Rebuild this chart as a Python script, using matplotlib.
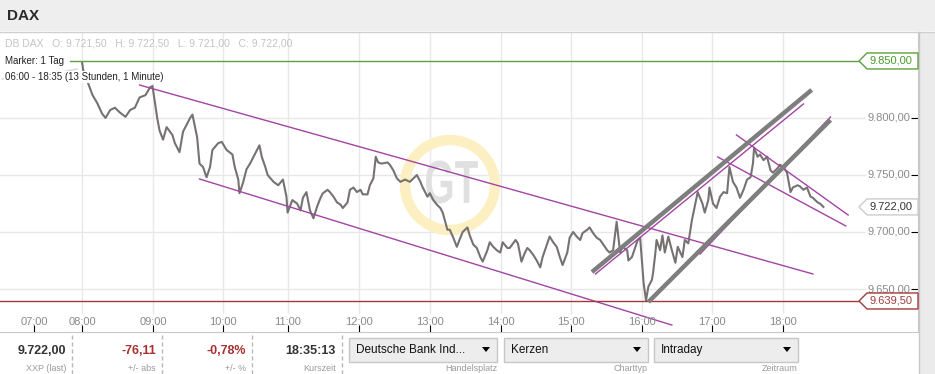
import matplotlib.pyplot as plt
from matplotlib.patches import Rectangle, Polygon, Ellipse, PathPatch
from matplotlib.textpath import TextPath
from matplotlib.font_manager import FontProperties
from matplotlib.transforms import Affine2D, blended_transform_factory

plt.rcParams['font.family'] = ['Liberation Sans', 'DejaVu Sans']

# minutes after 08:00 on the chart's (index based) time scale
pre_mins = [-68, -61, -53, -36, -19, -4]
pre_price = [9834, 9836, 9833, 9838, 9840, 9843]

mins = [0, 2, 5, 9, 13, 17, 20, 24, 28, 32, 37, 41, 45, 49, 54, 58, 60, 62, 64, 66, 69, 72, 77, 79, 83, 86, 92, 94,
        98, 100, 103, 106, 109, 111, 116, 119, 123, 128, 130, 133, 134, 137, 140, 143, 147, 151, 153, 156, 158, 163,
        167, 171, 174, 175, 179, 183, 186,
        188, 191, 194, 197, 200, 203, 205, 209, 211, 214, 217, 220, 222, 226, 228, 231, 234, 237, 239, 243, 245, 248,
        250, 252, 255, 260, 262, 265, 268, 271, 275, 279, 283,
        285, 288, 290, 294, 296, 299, 302, 305, 307, 311, 313, 316, 319, 322, 324, 328, 330, 333, 336, 339, 341, 345,
        347, 350, 353, 356, 358, 362, 364, 369, 371, 374, 377,
        379, 381, 384, 387, 390, 392, 396, 398, 401, 404, 407, 409, 413, 415, 418, 421, 424, 426, 430, 432, 435, 438,
        441, 443, 447, 449, 452, 455, 458, 460, 464, 465, 468, 471, 473,
        475, 477, 478, 480, 482, 485, 486, 488, 489, 492, 494, 496, 499, 502, 505, 507, 511, 513, 516, 519, 522, 524,
        528, 530, 533, 534, 537, 540, 543, 546, 549, 551, 554, 557, 560, 563, 566, 569, 571, 572, 575, 577, 580, 583,
        586, 588, 592, 594, 597, 600, 603, 605, 609, 611, 614, 617, 620, 622, 626, 628, 631]
price = [9849, 9836, 9831, 9820, 9813, 9804, 9800, 9807, 9809, 9805, 9801, 9807, 9809, 9818, 9820, 9827, 9828, 9814,
         9800, 9789, 9781, 9792, 9785, 9778, 9770, 9788, 9800, 9803,
         9783, 9760, 9757, 9748, 9757, 9772, 9778, 9779, 9772, 9768, 9757, 9746, 9734, 9743, 9755, 9760, 9768, 9776,
         9766, 9757, 9750, 9744, 9741, 9746, 9731, 9717, 9728, 9725, 9719,
         9730, 9735, 9719, 9712, 9722, 9730, 9734, 9737, 9735, 9731, 9726, 9724, 9721, 9726, 9737, 9739, 9735, 9737,
         9733, 9733, 9741, 9747, 9766, 9761, 9760, 9761, 9759, 9754, 9747, 9744, 9746, 9744, 9748,
         9750, 9744, 9739, 9731, 9734, 9728, 9724, 9721, 9717, 9702, 9702, 9695, 9687, 9695, 9700, 9704, 9697, 9689,
         9686, 9678, 9674, 9684, 9691, 9687, 9684, 9682, 9691, 9686, 9686, 9693, 9690, 9674, 9682,
         9686, 9684, 9680, 9675, 9669, 9678, 9690, 9696, 9691, 9687, 9677, 9671, 9682, 9695, 9700, 9696, 9693, 9699,
         9702, 9704, 9699, 9695, 9693, 9690, 9684, 9682, 9684, 9709, 9682, 9687, 9684, 9675, 9678, 9687, 9693,
         9695, 9669, 9655, 9640, 9652, 9658, 9664, 9682, 9693, 9684, 9697, 9682, 9696, 9684, 9673, 9687, 9678, 9693,
         9690, 9710, 9725, 9735, 9725, 9717, 9728, 9739, 9725, 9721, 9731, 9735, 9734, 9757, 9744, 9739, 9730, 9737,
         9746, 9748, 9760, 9774, 9766, 9768, 9763, 9766, 9754, 9752, 9756, 9759, 9757, 9752, 9735, 9739, 9741, 9740,
         9737, 9739, 9731, 9730, 9726, 9725, 9722]

# drawn trend lines: (start time, start price, end time, end price)
purple_lines = [("08:49", 9828.9, "18:22", 9663.2),
                ("09:40", 9746.5, "16:22", 9618.4),
                ("15:17", 9663.2, "18:14", 9812.3),
                ("16:46", 9680.7, "18:37", 9800.9),
                ("17:17", 9785.1, "18:52", 9714.9),
                ("17:01", 9765.8, "18:50", 9705.3)]
gray_lines = [("15:14", 9664.9, "18:21", 9824.6),
              ("16:02", 9638.6, "18:37", 9798.2)]

tick_labels = ["07:00", "08:00", "09:00", "10:00", "11:00", "12:00", "13:00", "14:00", "15:00", "16:00", "17:00", "18:00"]
tick_pos = [7.32, 8.0, 9.01, 10.0, 10.92, 11.93, 12.94, 13.94, 14.93, 15.94, 16.94, 17.94]
y_ticks = [9650, 9700, 9750, 9800]
y_tick_labels = ["9.650,00", "9.700,00", "9.750,00", "9.800,00"]

day_high = 9850.0
day_low = 9639.5
last = 9722.0


def hours(s):
    h, m = s.split(":")
    return int(h) + int(m) / 60.0


W, H = 935, 374
fig = plt.figure(figsize=(W / 100, H / 100), dpi=100)
fig.patch.set_facecolor("white")


def fx(px):
    return px / W


def fy(py):
    return 1 - py / H


ax = fig.add_axes([0, fy(332), fx(918), (332 - 32) / H])
ax.set_xlim(6.837, 19.858)
ax.set_ylim(9612.3, 9875.4)
for s in ["top", "left"]:
    ax.spines[s].set_visible(False)
ax.spines["bottom"].set_color("#c8c8c8")
ax.spines["right"].set_color("#c8c8c8")
ax.set_xticks(tick_pos)
ax.tick_params(axis="x", direction="in", length=5, color="black", labelbottom=False)
ax.yaxis.tick_right()
ax.set_yticks(y_ticks)
ax.tick_params(axis="y", direction="in", length=5, color="black", labelright=False)

# grid
for p in y_ticks:
    ax.axhline(p, xmin=0, xmax=865 / 918, color="#e8e8e8", lw=1, zorder=0.5)
for t in tick_pos[1:]:
    ax.axvline(t, ymin=19 / 300, ymax=1, color="#e8e8e8", lw=1, zorder=0.5)

# watermark
ax.add_patch(Ellipse((fx(450), fy(185)), 90 / W, 90 / H, transform=fig.transFigure,
                     fill=False, ec="#fcf0c2", lw=7.5, zorder=0.6))
tp = TextPath((0, 0), "GT", size=1, prop=FontProperties(family="Liberation Sans", weight="bold"))
bb = tp.get_extents()
tr = (Affine2D().translate(-bb.x0 - bb.width / 2, -bb.y0 - bb.height / 2)
      .scale(52 / bb.width / W, 43 / bb.height / H).translate(fx(452), fy(182)) + fig.transFigure)
ax.add_patch(PathPatch(tp, transform=tr, fc="#e0e0e0", ec="none", zorder=0.7))

# price
ax.plot([8 + m / 60 for m in pre_mins], pre_price, color="#d6d6d6", lw=1, zorder=1)
ax.plot([8 + m / 60 for m in mins], price, color="#767272", lw=1.5, zorder=2)

# trend lines
for t0, p0, t1, p1 in purple_lines:
    ax.plot([hours(t0), hours(t1)], [p0, p1], color="#a344a3", lw=1, zorder=3)
for t0, p0, t1, p1 in gray_lines:
    ax.plot([hours(t0), hours(t1)], [p0, p1], color="#7e7e7e", lw=3.2, zorder=3.5,
            solid_capstyle="butt")

# marker lines
ax.axhline(day_high, xmin=70 / 918, xmax=859 / 918, color="#5aa23c", lw=1, zorder=3)
ax.axhline(day_low, xmin=0, xmax=859 / 918, color="#a33a3a", lw=1, zorder=3)

# axis labels
bt = blended_transform_factory(ax.transData, ax.transAxes)
for t, lab in zip(tick_pos, tick_labels):
    ax.text(t, 10 / 300, lab, transform=bt, ha="center", va="center", fontsize=8, color="#8a8a8a")
bt2 = blended_transform_factory(ax.transAxes, ax.transData)
for p, lab in zip(y_ticks, y_tick_labels):
    ax.text(910 / 918, p, lab, transform=bt2, ha="right", va="center", fontsize=8, color="#8a8a8a",
            zorder=4)

# texts in chart
ax.text(fx(5), fy(44), "DB DAX   O: 9.721,50   H: 9.722,50   L: 9.721,00   C: 9.722,00",
        transform=fig.transFigure, fontsize=7.5, color="#c4c4c4", va="center")
ax.text(fx(5), fy(61), "Marker: 1 Tag", transform=fig.transFigure, fontsize=7, color="#222222",
        va="center", zorder=5, bbox=dict(fc="white", ec="none", pad=1.5))
ax.text(fx(5), fy(77), "06:00 - 18:35 (13 Stunden, 1 Minute)", transform=fig.transFigure, fontsize=7,
        color="#222222", va="center", zorder=5, bbox=dict(fc="white", ec="none", pad=0.5))


# price tags on the right
def tag(p, text, edge, tcolor):
    py = H - ax.transData.transform((7, p))[1]
    pts = [(859, py), (867, py - 8), (918, py - 8), (918, py + 8), (867, py + 8)]
    fig.add_artist(Polygon([(fx(x), fy(y)) for x, y in pts], closed=True, transform=fig.transFigure,
                           fc="white", ec=edge, lw=1, zorder=5))
    fig.text(fx(891), fy(py), text, color=tcolor, ha="center", va="center", fontsize=8, zorder=6)


tag(day_high, "9.850,00", "#5aa23c", "#4a9a2c")
tag(last, "9.722,00", "#cccccc", "#333333")
tag(day_low, "9.639,50", "#a33a3a", "#a33a3a")

# header and right strip
fig.add_artist(Rectangle((0, fy(31)), 1, 31 / H, transform=fig.transFigure, fc="#eeeeee", ec="none", zorder=0))
fig.add_artist(plt.Line2D([0, 1], [fy(31.5), fy(31.5)], transform=fig.transFigure, color="#cfcfcf", lw=1))
fig.text(fx(7), fy(16), "DAX", fontsize=11, fontweight="bold", color="#2a2a2a", va="center")
fig.add_artist(Rectangle((fx(918.5), 0), 1 - fx(918.5), fy(31.5), transform=fig.transFigure,
                         fc="#ebebeb", ec="none", zorder=0))
fig.add_artist(plt.Line2D([fx(918.5), fx(918.5)], [0, fy(32)], transform=fig.transFigure, color="#c8c8c8",
                          lw=1))

# bottom panel
values = [("9.722,00", "XXP (last)", 66, "#333333"),
          ("-76,11", "+/- abs", 156, "#a83232"),
          ("-0,78%", "+/- %", 246, "#a83232"),
          ("18:35:13", "Kurszeit", 336, "#333333")]
for val, sub, xr, col in values:
    fig.text(fx(xr), fy(351), val, ha="right", va="center", fontsize=9, fontweight="bold", color=col)
    fig.text(fx(xr), fy(373), sub, ha="right", va="bottom", fontsize=6.5, color="#9a9a9a")
for xs in [72, 162, 252, 342]:
    fig.add_artist(plt.Line2D([fx(xs), fx(xs)], [fy(335), 0], transform=fig.transFigure, color="#b8b8b8",
                              lw=1, linestyle=(0, (3, 2))))

buttons = [("Deutsche Bank Ind...", "Handelsplatz", 349, 497),
           ("Kerzen", "Charttyp", 504, 648),
           ("Intraday", "Zeitraum", 654, 798)]
for txt, sub, x0, x1 in buttons:
    fig.add_artist(Rectangle((fx(x0), fy(362)), fx(x1) - fx(x0), 24 / H, transform=fig.transFigure,
                             fc="#ededed", ec="#c6c6c6", lw=1))
    fig.text(fx(x0 + 7), fy(350), txt, ha="left", va="center", fontsize=8.5, color="#111111")
    tri = [(x1 - 15, 347), (x1 - 7, 347), (x1 - 11, 352)]
    fig.add_artist(Polygon([(fx(a), fy(b)) for a, b in tri], closed=True, transform=fig.transFigure,
                           fc="black", ec="none"))
    fig.text(fx(x1), fy(373), sub, ha="right", va="bottom", fontsize=6.5, color="#9a9a9a")

fig.savefig("out.png", dpi=100)
